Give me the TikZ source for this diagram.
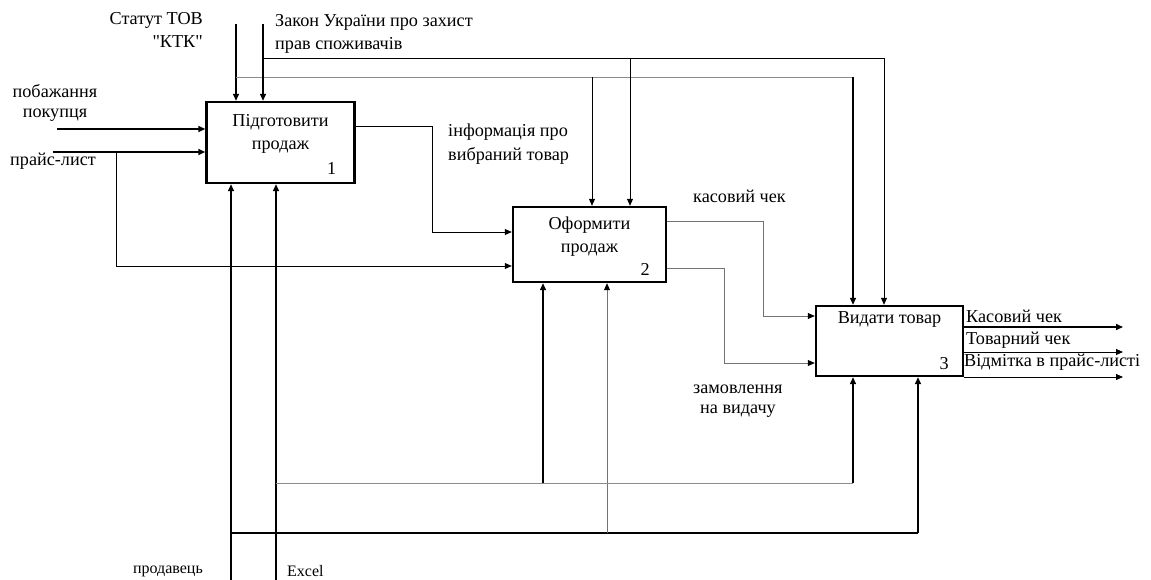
\documentclass[tikz,border=0pt]{standalone}
\usepackage{fontspec}
\setmainfont{Liberation Serif}[Ligatures=TeXOff]
\usetikzlibrary{arrows.meta}
\begin{document}
\begin{tikzpicture}[x=1pt,y=-1pt,
  box/.style={draw,line width=2.4pt,inner sep=0pt},
  arr/.style={-{Triangle[length=7pt,width=6pt]},line width=1.4pt},
  tarr/.style={-{Triangle[length=7pt,width=6pt]},line width=0.8pt},
  tl/.style={line width=0.8pt},
  gl/.style={line width=0.7pt,draw=black!45},
  garr/.style={-{Triangle[length=7pt,width=6pt,color=black,fill=black]},line width=0.8pt,draw=black!55},
  lbl/.style={font=\fontsize{18.2}{22}\selectfont,inner sep=0pt},
  sml/.style={font=\fontsize{16}{18}\selectfont,inner sep=0pt},
  ttl/.style={font=\fontsize{18.2}{23}\selectfont,inner sep=0pt,align=center,anchor=north}]
\useasboundingbox (0,0) rectangle (1151,580);
% boxes
\node[box,minimum width=148pt,minimum height=81pt] (b1) at (280.5,142.5) {};
\node[box,minimum width=153pt,minimum height=75pt] (b2) at (589.5,244.5) {};
\node[box,minimum width=147pt,minimum height=70pt] (b3) at (889.5,341) {};
\node[ttl] (t1) at ([yshift=-13pt]b1.north) {Підготовити\\продаж};
\node[ttl] (t2) at ([yshift=-11pt]b2.north) {Оформити\\продаж};
\node[ttl] (t3) at ([yshift=-7pt]b3.north) {Видати товар};
\node[lbl] (n1) at ([xshift=-24pt,yshift=16pt]b1.south east) {1};
\node[lbl] (n2) at ([xshift=-22pt,yshift=14pt]b2.south east) {2};
\node[lbl] (n3) at ([xshift=-20pt,yshift=14pt]b3.south east) {3};
% controls
\coordinate (s0) at (236,24);
\coordinate (sb) at (236,77);
\coordinate (sc) at (853,77);
\coordinate (sd) at (592,77);
\draw[arr] (s0) -- (s0 |- b1.north);
\draw[gl] (sb) -- (sc);
\draw[arr] (sc) -- (sc |- b3.north);
\draw[tarr] (sd) -- (sd |- b2.north);
\coordinate (z0) at (263,24);
\coordinate (zb) at (263,58);
\coordinate (zc) at (884,58);
\coordinate (zd) at (630,58);
\draw[arr] (z0) -- (z0 |- b1.north);
\draw[tl] (zb) -- (zc);
\draw[tarr] (zc) -- (zc |- b3.north);
\draw[tarr] (zd) -- (zd |- b2.north);
% inputs
\coordinate (p0) at (57,129);
\draw[arr] (p0) -- (p0 -| b1.west);
\coordinate (l0) at (53,152);
\coordinate (l1) at (116,152);
\coordinate (l2) at (116,266);
\draw[arr] (l0) -- (l0 -| b1.west);
\draw[tarr] (l1) -- (l2) -- (l2 -| b2.west);
% box1 -> box2
\coordinate (i1) at (432,126);
\coordinate (i2) at (432,232);
\draw[tarr] (b1.east |- i1) -- (i1) -- (i2) -- (i2 -| b2.west);
% box2 -> box3
\coordinate (k1) at (763,221);
\coordinate (k2) at (763,316);
\draw[garr] (b2.east |- k1) -- (k1) -- (k2) -- (k2 -| b3.west);
\coordinate (m1) at (724,268);
\coordinate (m2) at (724,363);
\draw[garr] (b2.east |- m1) -- (m1) -- (m2) -- (m2 -| b3.west);
% outputs
\coordinate (o1) at (1123,327);
\coordinate (o2) at (1123,352);
\coordinate (o3) at (1123,377);
\draw[arr] (b3.east |- o1) -- (o1);
\draw[tarr] (b3.east |- o2) -- (o2);
\draw[tarr] (b3.east |- o3) -- (o3);
% mechanisms
\coordinate (v0) at (231,580);
\coordinate (v1) at (231,533);
\coordinate (v2) at (918,533);
\coordinate (v3) at (607,533);
\draw[arr] (v0) -- (v0 |- b1.south);
\draw[line width=1.4pt] (v1) -- (v2);
\draw[arr] (v2) -- (v2 |- b3.south);
\draw[garr] (v3) -- (v3 |- b2.south);
\coordinate (e0) at (276,580);
\coordinate (e1) at (276,483);
\coordinate (e2) at (853,483);
\coordinate (e3) at (543,483);
\draw[arr] (e0) -- (e0 |- b1.south);
\draw[gl] (e1) -- (e2);
\draw[arr] (e2) -- (e2 |- b3.south);
\draw[arr] (e3) -- (e3 |- b2.south);
% labels
\node[lbl,anchor=east] (ls1) at (203,20) {Статут ТОВ};
\node[lbl,anchor=east] (ls2) at (203,42) {"КТК"};
\node[lbl,anchor=west] (lz1) at (275,22) {Закон України про захист};
\node[lbl,anchor=west] (lz2) at (275,45) {прав споживачів};
\node[lbl] (lp1) at (55,91) {побажання};
\node[lbl] (lp2) at (55,115) {покупця};
\node[lbl,anchor=west] (ll) at (10,161) {прайс-лист};
\node[lbl,anchor=west] (li1) at (448,132) {інформація про};
\node[lbl,anchor=west] (li2) at (448,156) {вибраний товар};
\node[lbl,anchor=west] (lk) at (693,196) {касовий чек};
\node[lbl,anchor=west] (lm1) at (693,389) {замовлення};
\node[lbl,anchor=west] (lm2) at (700,411) {на видачу};
\node[lbl,anchor=west] (lo1) at (966,316) {Касовий чек};
\node[lbl,anchor=west] (lo2) at (966,340) {Товарний чек};
\node[lbl,anchor=west] (lo3) at (964,362) {Відмітка в прайс-листі};
\node[sml,anchor=east] (lv) at (203,571) {продавець};
\node[sml,anchor=west] (le) at (287,571) {Excel};
\end{tikzpicture}
\end{document}
